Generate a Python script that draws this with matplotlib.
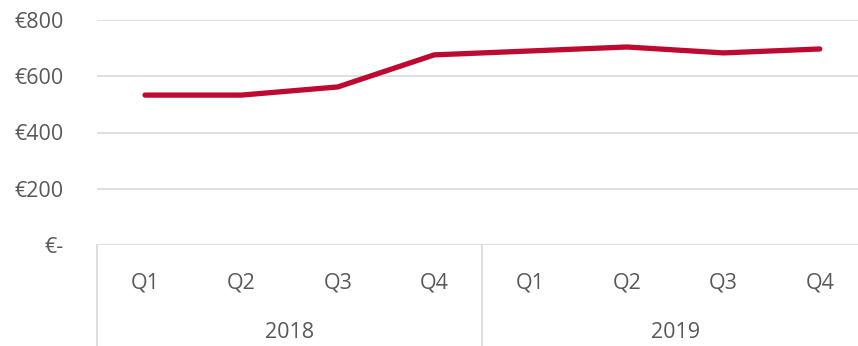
import matplotlib.pyplot as plt
import matplotlib.transforms as mtransforms

quarters = ["Q1", "Q2", "Q3", "Q4", "Q1", "Q2", "Q3", "Q4"]
years = ["2018", "2019"]
values = [533, 533, 562, 676, 690, 704, 683, 697]
yticks = [0, 200, 400, 600, 800]
ytick_labels = ["€-", "€200", "€400", "€600", "€800"]

line_color = "#BE0A30"
text_color = "#595959"
grid_color = "#D9D9D9"

plt.rcParams["font.family"] = ["Open Sans", "DejaVu Sans"]

fig = plt.figure(figsize=(8.58, 3.46), dpi=100)
# plot area runs slightly past the right edge of the figure
ax = fig.add_axes([96.8 / 858, 101 / 346, (868 - 96.8) / 858, 225 / 346])

x = list(range(len(values)))
ax.plot(x, values, color=line_color, linewidth=3.8, solid_capstyle="round",
        solid_joinstyle="round", zorder=3)

ax.set_xlim(-0.5, len(values) - 0.5)
ax.set_ylim(0, 800)
ax.set_yticks(yticks)
ax.set_yticklabels(ytick_labels)
ax.tick_params(axis="y", length=0, pad=24, labelsize=15.5, labelcolor=text_color)
ax.set_xticks([])
for side in ["top", "right", "left", "bottom"]:
    ax.spines[side].set_visible(False)
ax.grid(axis="y", color=grid_color, linewidth=1.2)
ax.set_axisbelow(True)

# two-level category axis: quarters, then years with separators
trans = mtransforms.blended_transform_factory(ax.transData, ax.transAxes)
px = 1 / 225  # one pixel in axes height units
for i, q in enumerate(quarters):
    ax.text(i, -38 * px, q, transform=trans, ha="center", va="center",
            fontsize=15.5, color=text_color)
for j, yr in enumerate(years):
    ax.text(j * 4 + 1.5, -87 * px, yr, transform=trans, ha="center", va="center",
            fontsize=15.5, color=text_color)
for xs in [-0.5, 3.5, 7.5]:
    ax.plot([xs, xs], [0, -110 * px], transform=trans, color=grid_color,
            linewidth=1.2, clip_on=False)

fig.savefig("out.png", dpi=100)
